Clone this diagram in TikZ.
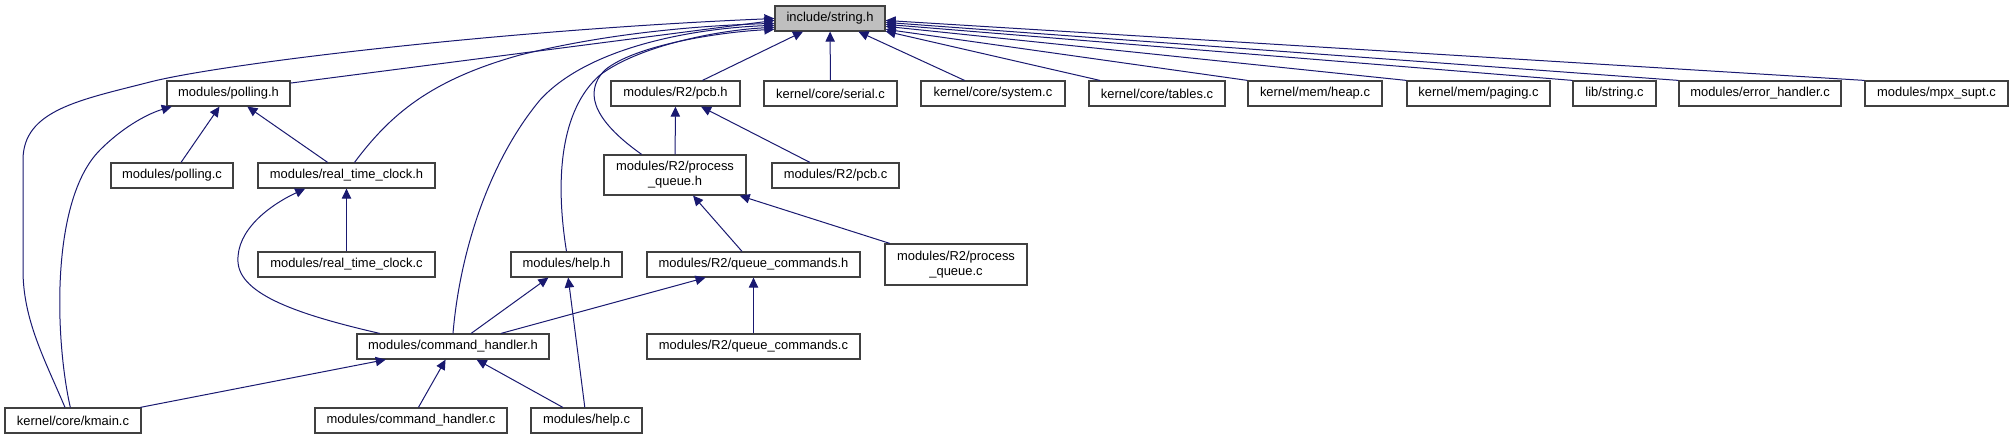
\documentclass[tikz,border=0pt]{standalone}
\usepackage{fontspec}
\setmainfont{Liberation Sans}
\usetikzlibrary{arrows.meta}

\definecolor{edgeblue}{HTML}{191970}
\definecolor{rootgray}{HTML}{BFBFBF}
\definecolor{boxline}{HTML}{404040}

\begin{document}
\begin{tikzpicture}[x=0.75pt, y=-0.75pt,
    file/.style={draw=boxline, line width=0.9pt, rectangle, inner sep=0pt,
      minimum height=18.75pt, align=center,
      font=\fontsize{9.7}{11.25}\selectfont},
    boxw/.style={minimum width=#1*0.75pt},
    tall/.style={minimum height=#1*0.75pt},
    dep/.style={draw=edgeblue, line width=0.75pt,
      -{Triangle[length=7.5pt, width=7pt]}}]

  \useasboundingbox (0,0) rectangle (2013,440);

  % Included header
  \node[file, boxw=110, fill=rootgray] (stringh) at (830,18.5) {include/string.h};

  % Second row
  \node[file, boxw=123] (pollingh) at (228.5,93.5) {modules/polling.h};
  \node[file, boxw=129] (pcbh) at (675.5,93.5) {modules/R2/pcb.h};
  \node[file, boxw=133] (serialc) at (830.5,93.5) {kernel/core/serial.c};
  \node[file, boxw=144] (systemc) at (993,93.5) {kernel/core/system.c};
  \node[file, boxw=136] (tablesc) at (1157,93.5) {kernel/core/tables.c};
  \node[file, boxw=134] (heapc) at (1315,93.5) {kernel/mem/heap.c};
  \node[file, boxw=143] (pagingc) at (1478.5,93.5) {kernel/mem/paging.c};
  \node[file, boxw=83] (libstringc) at (1614.5,93.5) {lib/string.c};
  \node[file, boxw=162] (errorc) at (1760,93.5) {modules/error\_handler.c};
  \node[file, boxw=143] (mpxc) at (1936.5,93.5) {modules/mpx\_supt.c};

  % Third row
  \node[file, boxw=122] (pollingc) at (172,175.5) {modules/polling.c};
  \node[file, boxw=177] (rtch) at (346.5,175.5) {modules/real\_time\_clock.h};
  \node[file, boxw=142, tall=40] (pqh) at (675,175) {modules/R2/process\\\_queue.h};
  \node[file, boxw=127] (pcbc) at (835.5,175.5) {modules/R2/pcb.c};

  % Fourth row
  \node[file, boxw=177] (rtcc) at (346.5,264.5) {modules/real\_time\_clock.c};
  \node[file, boxw=111] (helph) at (566.5,264.5) {modules/help.h};
  \node[file, boxw=213] (qch) at (753.5,264.5) {modules/R2/queue\_commands.h};
  \node[file, boxw=142, tall=41] (pqc) at (956,264.5) {modules/R2/process\\\_queue.c};

  % Fifth row
  \node[file, boxw=192] (chh) at (453,346.5) {modules/command\_handler.h};
  \node[file, boxw=213] (qcc) at (753.5,346.5) {modules/R2/queue\_commands.c};

  % Bottom row
  \node[file, boxw=136] (kmainc) at (73,420.5) {kernel/core/kmain.c};
  \node[file, boxw=192] (chc) at (411,420.5) {modules/command\_handler.c};
  \node[file, boxw=111] (helpc) at (586.5,420.5) {modules/help.c};

  % Includes of string.h
  \draw[dep] ([xshift=-6pt]kmainc.north) .. controls (45,360) and (23,320) .. (23,270)
    -- (23,160) .. controls (23,110) and (80,100) .. (150,82)
    .. controls (220,64) and (500,30) .. (stringh.180);
  \draw[dep] ([yshift=-2pt]pollingh.north east) -- (stringh.182);
  \draw[dep] ([xshift=6pt]rtch.north) .. controls (390,115) and (430,80) .. (520,55)
    .. controls (620,30) and (720,25) .. (stringh.185);
  \draw[dep] (chh.north) .. controls (460,250) and (490,160) .. (540,100)
    .. controls (590,45) and (700,28) .. (stringh.187);
  \draw[dep] (helph.north) .. controls (555,180) and (560,110) .. (600,75)
    .. controls (640,45) and (720,30) .. (stringh.189);
  \draw[dep] ([xshift=-25pt]pqh.north) .. controls (600,125) and (580,95) .. (605,70)
    .. controls (635,45) and (720,32) .. (stringh.191);
  \draw[dep] (pcbh) -- (stringh);
  \draw[dep] (serialc) -- (stringh);
  \draw[dep] (systemc) -- (stringh);
  \draw[dep] (tablesc) -- (stringh);
  \draw[dep] (heapc.north west) -- (stringh.-11);
  \draw[dep] (pagingc.north west) -- (stringh.-8);
  \draw[dep] (libstringc.north west) -- (stringh.-6);
  \draw[dep] (errorc.north west) -- (stringh.-4);
  \draw[dep] (mpxc.north west) -- (stringh.-2);

  % Includes of polling.h
  \draw[dep] ([xshift=-2pt]kmainc.north) .. controls (55,340) and (50,200) .. (100,150)
    .. controls (125,125) and (150,113) .. ([xshift=4pt]pollingh.south west);
  \draw[dep] (pollingc) -- (pollingh);
  \draw[dep] (rtch) -- (pollingh);

  % Includes of real_time_clock.h
  \draw[dep] (rtcc) -- (rtch);
  \draw[dep] ([xshift=-55pt]chh.north) .. controls (300,315) and (240,295) .. (238,262)
    .. controls (236,230) and (270,205) .. ([xshift=-31pt]rtch.south);

  % Includes of the R2 headers
  \draw[dep] (pqh) -- (pcbh);
  \draw[dep] (pcbc) -- (pcbh);
  \draw[dep] (qch) -- (pqh);
  \draw[dep] (pqc) -- (pqh);
  \draw[dep] (chh) -- (qch);
  \draw[dep] (qcc) -- (qch);

  % Includes of help.h and command_handler.h
  \draw[dep] (chh) -- (helph);
  \draw[dep] (helpc) -- (helph);
  \draw[dep] (kmainc) -- (chh);
  \draw[dep] (chc) -- (chh);
  \draw[dep] (helpc) -- (chh);

\end{tikzpicture}
\end{document}
